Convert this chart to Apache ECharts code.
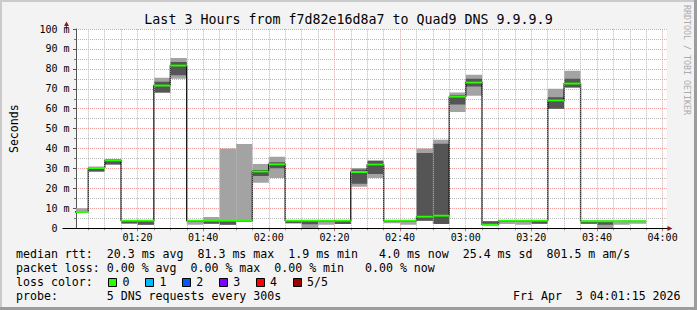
<!DOCTYPE html>
<html><head><meta charset="utf-8">
<script src="https://cdn.jsdelivr.net/npm/echarts@6/dist/echarts.min.js"></script>
<style>html,body{margin:0;padding:0;background:#f3f3f3}#c{width:697px;height:310px}</style>
</head><body><div id="c"></div>
<script>
// ---- data (5-minute bins, labelled by bin end time) ----
const binEnds = ['01:05','01:10','01:15','01:20','01:25','01:30','01:35','01:40','01:45','01:50',
  '01:55','02:00','02:05','02:10','02:15','02:20','02:25','02:30','02:35','02:40',
  '02:45','02:50','02:55','03:00','03:05','03:10','03:15','03:20','03:25','03:30',
  '03:35','03:40','03:45','03:50','03:55'];
const pingMin  = [8.0, 28.4, 32.0, 2.4, 1.8, 68.0, 75.0, 1.8, 2.3, 1.8,
  3.5, 22.9, 25.3, 2.5, 0.2, 1.8, 2.2, 20.9, 25.3, 2.5,
  1.8, 3.8, 2.2, 58.4, 66.5, 1.7, 2.2, 1.8, 2.3, 60.0,
  70.7, 2.3, 0.1, 1.8, 2.3];
const pingLow  = [8.0, 28.5, 32.0, 2.4, 1.8, 68.1, 76.8, 3.4, 2.3, 1.8,
  3.6, 26.3, 30.1, 2.5, 2.0, 3.5, 2.2, 22.3, 27.3, 3.5,
  3.5, 3.8, 2.2, 62.1, 71.2, 1.7, 3.5, 3.5, 2.3, 60.0,
  70.7, 2.3, 1.8, 3.3, 3.2];
const median   = [8.2, 30.3, 34.0, 3.8, 3.8, 71.7, 81.7, 3.8, 3.8, 3.8,
  3.8, 28.5, 32.2, 3.8, 3.8, 3.8, 3.8, 28.3, 32.0, 3.8,
  3.8, 5.8, 6.3, 66.0, 73.2, 1.8, 3.8, 3.8, 3.8, 64.1,
  72.7, 3.5, 3.5, 3.5, 3.5];
const pingHigh = [8.7, 30.8, 34.5, 3.9, 3.9, 73.5, 83.5, 3.9, 3.9, 3.9,
  3.9, 29.2, 33.2, 3.9, 3.9, 3.9, 3.9, 29.5, 33.8, 3.9,
  3.9, 37.8, 42.4, 66.8, 75.0, 3.5, 3.9, 3.9, 3.9, 65.8,
  75.0, 3.6, 3.6, 3.6, 3.6];
const pingMax  = [10.0, 31.0, 34.6, 4.0, 4.0, 75.5, 85.5, 4.1, 5.7, 40.0,
  42.3, 32.3, 35.9, 4.0, 4.0, 4.0, 4.0, 30.3, 34.2, 4.0,
  4.0, 40.0, 44.4, 68.2, 77.0, 3.6, 4.0, 4.0, 4.0, 70.0,
  79.0, 3.7, 3.7, 3.7, 3.7];
const xTickLabels = ['01:20','01:40','02:00','02:20','02:40','03:00','03:20','03:40','04:00'];
const rangeStart = '01:01:15';
const rangeEnd = '04:01:15';
const lossColors = ['#26ff00','#00b8ff','#0059ff','#7e00ff','#ff0000','#a10000'];
const lossLabels = ['0','1','2','3','4','5/5'];
const legendLines = [
  'median rtt:  20.3 ms avg  81.3 ms max  1.9 ms min   4.0 ms now  25.4 ms sd  801.5 m am/s',
  'packet loss: 0.00 % avg  0.00 % max  0.00 % min   0.00 % now',
  'loss color:',
  'probe:       5 DNS requests every 300s'
];
const stampText = 'Fri Apr  3 04:01:15 2026';
const titleText = 'Last 3 Hours from f7d82e16d8a7 to Quad9 DNS 9.9.9.9';

// ---- helpers ----
function toMin(s) { const p = s.split(':').map(Number); return p[0]*60 + p[1] + (p[2]||0)/60; }
function fmt(v) { const h = Math.floor(v/60), m = Math.round(v - h*60); return String(h).padStart(2,'0') + ':' + String(m).padStart(2,'0'); }

const FONT = '"DejaVu Sans Mono", monospace';
const RED = '#f09a9a', GRAY = '#b8b8b8';
const xMin = toMin(rangeStart), xMax = toMin(rangeEnd);
const ends = binEnds.map(toMin);
const starts = ends.map(e => e - 5);
const gridTicks = [];
for (let t = Math.ceil(xMin/5)*5; t <= xMax; t += 5) gridTicks.push(t);
const majorTicks = xTickLabels.map(toMin);

function rectRender(color) {
  return function (params, api) {
    const a = api.coord([api.value(0), api.value(3)]);
    const b = api.coord([api.value(1), api.value(2)]);
    return { type: 'rect', shape: { x: a[0], y: a[1], width: b[0]-a[0], height: Math.max(b[1]-a[1], 0.6) },
      style: { fill: color } };
  };
}

const medianPath = [];
ends.forEach((e, i) => { medianPath.push([starts[i], median[i]]); medianPath.push([e, median[i]]); });

const chart = echarts.init(document.getElementById('c'), null, { renderer: 'svg', width: 697, height: 310 });

const graphics = [
  { type: 'rect', shape: { x: 0, y: 0, width: 697, height: 2 }, style: { fill: '#cbcbcb' }, silent: true },
  { type: 'rect', shape: { x: 0, y: 0, width: 2, height: 310 }, style: { fill: '#cbcbcb' }, silent: true },
  { type: 'rect', shape: { x: 694, y: 0, width: 3, height: 310 }, style: { fill: '#9c9c9c' }, silent: true },
  { type: 'rect', shape: { x: 0, y: 307, width: 697, height: 3 }, style: { fill: '#9c9c9c' }, silent: true },
  // axis extensions and arrows
  { type: 'line', shape: { x1: 66.5, y1: 29, x2: 66.5, y2: 25 }, style: { stroke: '#555', lineWidth: 1 }, silent: true },
  { type: 'polygon', shape: { points: [[64, 26], [69, 26], [66.5, 21.5]] }, style: { fill: '#8b1a1a' }, silent: true },
  { type: 'line', shape: { x1: 62.5, y1: 228.5, x2: 668, y2: 228.5 }, style: { stroke: '#000', lineWidth: 1 }, silent: true, z: 10 },
  { type: 'polygon', shape: { points: [[667.5, 226], [667.5, 231], [672.5, 228.5]] }, style: { fill: '#8b1a1a' }, silent: true, z: 10 },
  // RRDTOOL credit
  { type: 'text', x: 691, y: 5, rotation: -Math.PI/2, silent: true,
    style: { text: 'RRDTOOL / TOBI OETIKER', font: '8.3px ' + FONT, fill: '#ababab', textAlign: 'left', textVerticalAlign: 'top' } },
  { type: 'text', x: 513, y: 296, silent: true,
    style: { text: stampText, font: '11.6px ' + FONT, fill: '#000', textAlign: 'left', textVerticalAlign: 'middle' } }
];
const lineYs = [254.3, 268.3, 282.3, 296.2];
legendLines.forEach((t, i) => graphics.push({ type: 'text', x: 16, y: lineYs[i], silent: true,
  style: { text: t, font: '11.6px ' + FONT, fill: '#000', textAlign: 'left', textVerticalAlign: 'middle' } }));
lossColors.forEach((c, i) => {
  const bx = 108 + i*36.9;
  graphics.push({ type: 'rect', shape: { x: Math.round(bx)+0.5, y: 278.5, width: 8, height: 8 }, style: { fill: c, stroke: '#000', lineWidth: 1 }, silent: true });
  graphics.push({ type: 'text', x: bx + 14.5, y: 282.3, silent: true,
    style: { text: lossLabels[i], font: '11.6px ' + FONT, fill: '#000', textAlign: 'left', textVerticalAlign: 'middle' } });
});

chart.setOption({
  animation: false,
  backgroundColor: '#f3f3f3',
  title: { text: titleText, left: 'center', top: 12.6, padding: 0,
    textStyle: { fontFamily: FONT, fontSize: 13.3, fontWeight: 'normal', color: '#000' } },
  grid: { left: 66.7, right: 30.3, top: 29, bottom: 81.7, show: true, backgroundColor: '#ffffff', borderWidth: 0 },
  xAxis: [{
    type: 'value', min: xMin, max: xMax,
    axisLine: { show: false },
    axisTick: { show: true, customValues: gridTicks, length: 2, lineStyle: { color: '#999' } },
    axisLabel: { show: false },
    splitLine: { show: false }
  }, {
    type: 'value', min: xMin, max: xMax, position: 'bottom',
    axisLine: { show: false },
    axisTick: { show: true, customValues: majorTicks, length: 3, lineStyle: { color: '#d07070' } },
    axisLabel: { customValues: majorTicks, formatter: v => fmt(v), margin: 4,
      fontFamily: FONT, fontSize: 10, color: '#000' },
    splitLine: { show: false }
  }],
  yAxis: {
    type: 'value', min: 0, max: 100, interval: 10,
    name: 'Seconds', nameLocation: 'middle', nameRotate: 90, nameGap: 56,
    nameTextStyle: { fontFamily: FONT, fontSize: 11.6, color: '#000' },
    axisLine: { show: true, lineStyle: { color: '#555', width: 1 } },
    axisTick: { show: true, length: 3, lineStyle: { color: '#555' } },
    minorTick: { show: true, splitNumber: 2, length: 2, lineStyle: { color: '#777' } },
    axisLabel: { margin: 6.5, fontFamily: FONT, fontSize: 10, color: '#000',
      formatter: v => (v === 0 ? '{z|0}' : v + ' m'),
      rich: { z: { fontFamily: FONT, fontSize: 10, color: '#000', padding: [0, 12, 0, 0] } } },
    splitLine: { show: true, lineStyle: { color: RED, type: [1, 1], width: 1 } },
    minorSplitLine: { show: true, lineStyle: { color: GRAY, type: [1, 1], width: 1 } }
  },
  series: [
    { type: 'line', name: 'time grid', z: 1, data: [], xAxisIndex: 0, silent: true,
      markLine: { silent: true, symbol: ['none', 'none'], label: { show: false }, animation: false,
        data: gridTicks.map(v => ({ xAxis: v,
          lineStyle: { color: majorTicks.indexOf(v) >= 0 ? RED : GRAY, type: [1, 1], width: 1 } })) } },
    { type: 'custom', name: 'smoke outer', clip: true, z: 2, renderItem: rectRender('#a3a3a3'),
      encode: { x: [0, 1], y: [2, 3] },
      data: ends.map((e, i) => [starts[i], e, pingMin[i], pingMax[i]]) },
    { type: 'custom', name: 'smoke inner', clip: true, z: 3, renderItem: rectRender('#555555'),
      encode: { x: [0, 1], y: [2, 3] },
      data: ends.map((e, i) => [starts[i], e, pingLow[i], pingHigh[i]]) },
    { type: 'line', name: 'median', z: 4, symbol: 'none', clip: true, data: medianPath,
      lineStyle: { color: '#000', width: 1.3 } },
    { type: 'custom', name: 'median loss 0', clip: true, z: 5,
      encode: { x: [0, 1], y: 2 },
      data: ends.map((e, i) => [starts[i], e, median[i]]),
      renderItem: function (params, api) {
        const a = api.coord([api.value(0), api.value(2)]);
        const b = api.coord([api.value(1), api.value(2)]);
        return { type: 'line', shape: { x1: a[0], y1: a[1], x2: b[0], y2: b[1] },
          style: { stroke: lossColors[0], lineWidth: 2 } };
      } }
  ],
  graphic: graphics
});
</script>
</body></html>
